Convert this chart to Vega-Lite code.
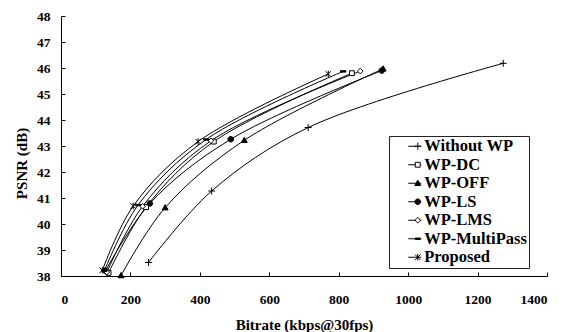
{
  "$schema": "https://vega.github.io/schema/vega-lite/v6.json",
  "width": 486,
  "height": 260,
  "autosize": {"type": "none"},
  "padding": {"left": 61, "top": 16, "right": 18, "bottom": 56},
  "background": "white",
  "config": {
    "view": {"stroke": null},
    "font": "Liberation Serif",
    "axis": {
      "grid": false,
      "domainColor": "#000000",
      "domainWidth": 1,
      "tickColor": "#000000",
      "tickWidth": 1,
      "tickSize": -4,
      "labelFont": "Liberation Serif",
      "labelFontWeight": "bold",
      "labelFontSize": 13.5,
      "labelColor": "#000000",
      "titleFont": "Liberation Serif",
      "titleFontWeight": "bold",
      "titleFontSize": 15,
      "titleColor": "#000000"
    },
    "legend": {
      "orient": "none",
      "legendX": 328,
      "legendY": 120,
      "padding": 2,
      "rowPadding": 1.5,
      "labelFont": "Liberation Serif",
      "labelFontWeight": "bold",
      "labelFontSize": 16.5,
      "labelColor": "#000000",
      "symbolStrokeWidth": 1
    }
  },
  "data": {
    "values": [
      {"series": "Without WP", "bitrate": 252, "psnr": 38.52},
      {"series": "Without WP", "bitrate": 434, "psnr": 41.27},
      {"series": "Without WP", "bitrate": 712, "psnr": 43.71},
      {"series": "Without WP", "bitrate": 1274, "psnr": 46.18},
      {"series": "WP-DC", "bitrate": 137, "psnr": 38.12},
      {"series": "WP-DC", "bitrate": 245, "psnr": 40.65},
      {"series": "WP-DC", "bitrate": 440, "psnr": 43.17},
      {"series": "WP-DC", "bitrate": 838, "psnr": 45.8},
      {"series": "WP-OFF", "bitrate": 173, "psnr": 38.02},
      {"series": "WP-OFF", "bitrate": 300, "psnr": 40.63},
      {"series": "WP-OFF", "bitrate": 528, "psnr": 43.22},
      {"series": "WP-OFF", "bitrate": 928, "psnr": 45.97},
      {"series": "WP-LS", "bitrate": 128, "psnr": 38.2},
      {"series": "WP-LS", "bitrate": 256, "psnr": 40.79},
      {"series": "WP-LS", "bitrate": 489, "psnr": 43.26},
      {"series": "WP-LS", "bitrate": 924, "psnr": 45.9},
      {"series": "WP-LMS", "bitrate": 132, "psnr": 38.15},
      {"series": "WP-LMS", "bitrate": 235, "psnr": 40.68},
      {"series": "WP-LMS", "bitrate": 432, "psnr": 43.2},
      {"series": "WP-LMS", "bitrate": 862, "psnr": 45.88},
      {"series": "WP-MultiPass", "bitrate": 125, "psnr": 38.2},
      {"series": "WP-MultiPass", "bitrate": 222, "psnr": 40.73},
      {"series": "WP-MultiPass", "bitrate": 418, "psnr": 43.25},
      {"series": "WP-MultiPass", "bitrate": 813, "psnr": 45.87},
      {"series": "Proposed", "bitrate": 119, "psnr": 38.22},
      {"series": "Proposed", "bitrate": 208, "psnr": 40.69},
      {"series": "Proposed", "bitrate": 395, "psnr": 43.17},
      {"series": "Proposed", "bitrate": 770, "psnr": 45.77}
    ]
  },
  "encoding": {
    "x": {
      "field": "bitrate",
      "type": "quantitative",
      "scale": {"domain": [0, 1400], "nice": false, "zero": false},
      "axis": {
        "title": "Bitrate (kbps@30fps)",
        "values": [0, 200, 400, 600, 800, 1000, 1200, 1400],
        "format": "d",
        "labelPadding": 20,
        "titleY": 41
      }
    },
    "y": {
      "field": "psnr",
      "type": "quantitative",
      "scale": {"domain": [38, 48], "nice": false, "zero": false},
      "axis": {
        "title": "PSNR (dB)",
        "values": [38, 39, 40, 41, 42, 43, 44, 45, 46, 47, 48],
        "labelPadding": 15,
        "titleX": -32,
        "titleY": 147
      }
    }
  },
  "layer": [
    {
      "mark": {"type": "line", "interpolate": "catmull-rom", "strokeWidth": 1},
      "encoding": {
        "color": {
          "field": "series",
          "type": "nominal",
          "sort": ["Without WP", "WP-DC", "WP-OFF", "WP-LS", "WP-LMS", "WP-MultiPass", "Proposed"],
          "scale": {"range": ["#000000", "#000000", "#000000", "#000000", "#000000", "#000000", "#000000"]},
          "legend": {
            "title": null,
            "symbolType": "stroke",
            "symbolSize": 169,
            "symbolStrokeColor": "#000000",
            "symbolStrokeWidth": 1,
            "symbolOffset": 15.5,
            "labelOffset": 1.2,
            "strokeColor": "#222222",
            "labelExpr": "datum.label + '\u00a0\u00a0\u00a0\u00a0\u00a0'"
          }
        }
      }
    },
    {
      "mark": {"type": "point", "size": 49, "stroke": "#000000", "strokeWidth": 1, "opacity": 1},
      "encoding": {
        "shape": {
          "field": "series",
          "type": "nominal",
          "scale": {
            "domain": ["Without WP", "WP-DC", "WP-OFF", "WP-LS", "WP-LMS", "WP-MultiPass", "Proposed"],
            "range": [
              "M-1,0H1M0,-1V1",
              "M-0.7,-0.7H0.7V0.7H-0.7Z",
              "M0,-0.85L0.85,0.65H-0.85Z",
              "M0.8,0A0.8,0.8,0,1,1,-0.8,0A0.8,0.8,0,1,1,0.8,0Z",
              "M0,-0.8L0.8,0L0,0.8L-0.8,0Z",
              "M-0.75,-0.2H0.75V0.2H-0.75Z",
              "M-0.8,-0.8L0.8,0.8M-0.8,0.8L0.8,-0.8M0,-0.95V0.95"
            ]
          },
          "legend": {
            "title": null,
            "symbolSize": 49,
            "symbolOffset": 18.5,
            "labelOffset": 4.2,
            "labelExpr": "''",
            "encode": {
              "symbols": {
                "fill": {"value": {"expr": "scale('fill', datum.value)"}},
                "stroke": {"value": "#000000"},
                "strokeWidth": {"value": 1},
                "opacity": {"value": 1}
              }
            }
          }
        },
        "fill": {
          "field": "series",
          "type": "nominal",
          "scale": {
            "domain": ["Without WP", "WP-DC", "WP-OFF", "WP-LS", "WP-LMS", "WP-MultiPass", "Proposed"],
            "range": ["transparent", "#ffffff", "#000000", "#000000", "#ffffff", "#000000", "transparent"]
          },
          "legend": null
        }
      }
    }
  ]
}
